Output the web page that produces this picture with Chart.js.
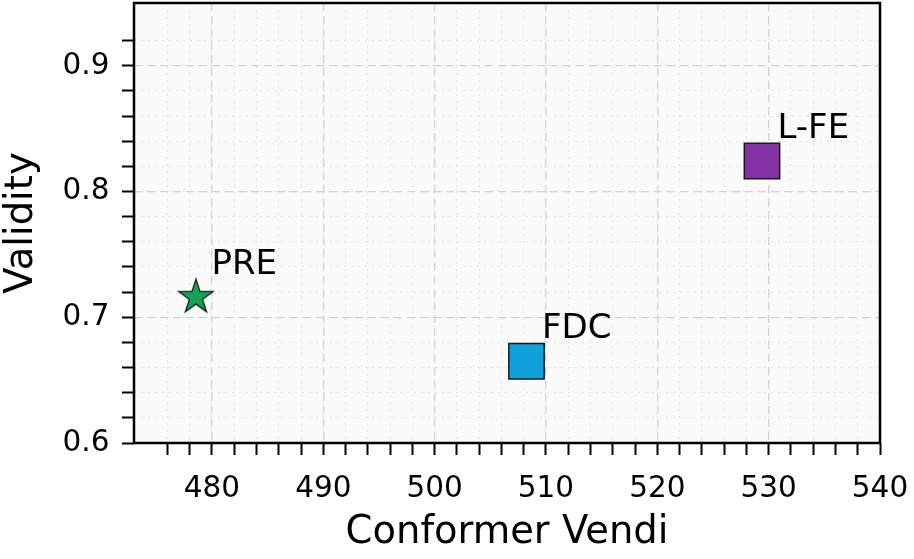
<!DOCTYPE html>
<html><head><meta charset="utf-8">
<script src="https://cdn.jsdelivr.net/npm/chart.js@4.4.0/dist/chart.umd.min.js"></script>
<style>html,body{margin:0;padding:0;background:#fff}canvas{display:block}</style>
</head><body>
<canvas id="c" width="914" height="559"></canvas>
<script>
const methods = ['PRE', 'FDC', 'L-FE'];
const vendiValues = [478.56, 508.25, 529.4];
const validityValues = [0.716, 0.665, 0.8243];
const markerColors = ['#13a454', '#0fa1dc', '#8431a8'];
const markerShapes = ['star', 'rect', 'rect'];
const xTickLabels = [480, 490, 500, 510, 520, 530, 540];
const yTickLabels = ['0.6', '0.7', '0.8', '0.9'];

const FONT = 'DejaVu Sans';
const isMult = (v, s) => Math.abs(v / s - Math.round(v / s)) < 1e-6;

function makeStar(R, fill) {
  const s = Math.ceil(2 * R + 4);
  const c = document.createElement('canvas');
  c.width = s; c.height = s;
  const ctx = c.getContext('2d');
  ctx.translate(s / 2, s / 2);
  ctx.beginPath();
  const r = R * 0.381966;
  for (let i = 0; i < 10; i++) {
    const rad = i % 2 ? r : R;
    const a = -Math.PI / 2 + i * Math.PI / 5;
    ctx.lineTo(rad * Math.cos(a), rad * Math.sin(a));
  }
  ctx.closePath();
  ctx.fillStyle = fill;
  ctx.fill();
  ctx.lineWidth = 1.3;
  ctx.strokeStyle = '#1a1a1a';
  ctx.stroke();
  return c;
}

const datasets = methods.map((m, i) => ({
  label: m,
  data: [{ x: vendiValues[i], y: validityValues[i] }],
  pointStyle: markerShapes[i] === 'star' ? makeStar(18, markerColors[i]) : 'rect',
  pointRadius: 25,
  pointHoverRadius: 25,
  backgroundColor: markerColors[i],
  borderColor: '#1a1a1a',
  borderWidth: 1.5
}));

const bgPlugin = {
  id: 'bg',
  beforeDraw(chart) {
    const { ctx, chartArea: a } = chart;
    ctx.save();
    ctx.fillStyle = '#ffffff';
    ctx.fillRect(0, 0, chart.width, chart.height);
    ctx.fillStyle = '#fafafa';
    ctx.fillRect(a.left, a.top, a.right - a.left, a.bottom - a.top);
    ctx.restore();
  },
  afterDatasetsDraw(chart) {
    const { ctx } = chart;
    ctx.save();
    ctx.font = '34px "' + FONT + '"';
    ctx.fillStyle = '#000';
    ctx.textBaseline = 'alphabetic';
    ctx.textAlign = 'left';
    chart.data.datasets.forEach((ds, i) => {
      const el = chart.getDatasetMeta(i).data[0];
      ctx.fillText(ds.label, el.x + 15.5, el.y - 23.3);
    });
    ctx.restore();
  },
  afterDraw(chart) {
    const { ctx, chartArea: a } = chart;
    ctx.save();
    ctx.strokeStyle = '#000';
    ctx.lineWidth = 2.5;
    ctx.strokeRect(a.left, a.top, a.right - a.left, a.bottom - a.top);
    ctx.restore();
  }
};

const noPad = s => { s.paddingLeft = 0; s.paddingRight = 0; s.paddingTop = 0; s.paddingBottom = 0; };

new Chart(document.getElementById('c'), {
  type: 'scatter',
  data: { datasets },
  options: {
    responsive: false,
    animation: false,
    devicePixelRatio: 1,
    layout: { autoPadding: false, padding: { left: 0, right: 34, top: 3, bottom: 0 } },
    plugins: { legend: { display: false }, tooltip: { enabled: false } },
    scales: {
      x: {
        type: 'linear', position: 'bottom', min: 473, max: 540,
        afterBuildTicks: s => { s.ticks = s.ticks.filter(t => isMult(t.value, 2)); },
        ticks: {
          stepSize: 2, autoSkip: false, maxRotation: 0, minRotation: 0,
          font: { family: FONT, size: 29.5 }, color: '#000', padding: 17,
          callback: v => (isMult(v, 10) && xTickLabels.includes(Math.round(v))) ? String(Math.round(v)) : ''
        },
        grid: { color: '#e2e2e2', lineWidth: 1, tickColor: '#000', tickWidth: 2, tickLength: 12, drawTicks: true },
        border: { display: false, dash: [2, 5] },
        title: { display: true, text: 'Conformer Vendi', color: '#000',
          font: { family: FONT, size: 38.5, lineHeight: 1 }, padding: { top: 0, bottom: 6.5 } },
        afterFit: s => { s.height = 116; noPad(s); }
      },
      y: {
        type: 'linear', position: 'left', min: 0.6, max: 0.95,
        afterBuildTicks: s => { s.ticks = s.ticks.filter(t => isMult(t.value, 0.02) && t.value < 0.945); },
        ticks: {
          stepSize: 0.02, autoSkip: false,
          font: { family: FONT, size: 29.5 }, color: '#000', padding: 12.5,
          callback: v => {
            const lab = v.toFixed(1);
            return (isMult(v, 0.1) && yTickLabels.includes(lab)) ? lab : '';
          }
        },
        grid: { color: '#e2e2e2', lineWidth: 1, tickColor: '#000', tickWidth: 2, tickLength: 12, drawTicks: true },
        border: { display: false, dash: [2, 5] },
        title: { display: true, text: 'Validity', color: '#000',
          font: { family: FONT, size: 38.5, lineHeight: 1 }, padding: { top: 3, bottom: 0 } },
        afterFit: s => { s.width = 134; noPad(s); }
      },
      xMajor: {
        type: 'linear', position: 'top', min: 473, max: 540,
        afterBuildTicks: s => { s.ticks = s.ticks.filter(t => isMult(t.value, 10)); },
        ticks: { display: false, stepSize: 10 },
        grid: { color: '#d2d2d2', lineWidth: 1.3, drawTicks: false },
        border: { display: false, dash: [8, 5] },
        afterFit: s => { s.height = 0; noPad(s); }
      },
      yMajor: {
        type: 'linear', position: 'right', min: 0.6, max: 0.95,
        afterBuildTicks: s => { s.ticks = s.ticks.filter(t => isMult(t.value, 0.1)); },
        ticks: { display: false, stepSize: 0.1 },
        grid: { color: '#d2d2d2', lineWidth: 1.3, drawTicks: false },
        border: { display: false, dash: [8, 5] },
        afterFit: s => { s.width = 0; noPad(s); }
      }
    }
  },
  plugins: [bgPlugin]
});
</script>
</body></html>
